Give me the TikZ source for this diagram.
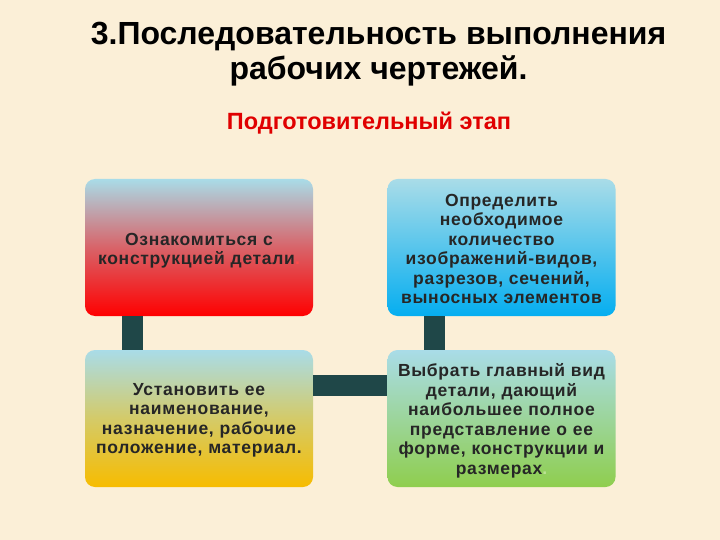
\documentclass[tikz,border=0pt]{standalone}
\usepackage{fontspec}
\setmainfont{Liberation Sans}
\definecolor{bgc}{HTML}{FBEFD7}
\definecolor{conncol}{HTML}{1F4748}
\definecolor{topblue}{HTML}{A9DCE8}
\definecolor{acred}{HTML}{FF0000}
\definecolor{acblue}{HTML}{05AEF0}
\definecolor{acyellow}{HTML}{F7BC00}
\definecolor{acgreen}{HTML}{8FCE4E}
\definecolor{titlered}{HTML}{E00000}
\tikzset{
  boxbase/.style={rounded corners=10pt, minimum width=228pt, minimum height=137pt, inner sep=0pt},
  boxtext/.style={inner sep=0pt, align=center, text width=224pt,
    font=\bfseries\fontsize{17.5}{19.5}\selectfont\addfontfeature{LetterSpace=4}, text=black!85},
  redbox/.style={boxbase, top color=topblue, bottom color=acred, middle color=acred!55!topblue},
  bluebox/.style={boxbase, top color=topblue, bottom color=acblue, middle color=acblue!50!topblue},
  yellowbox/.style={boxbase, top color=topblue, bottom color=acyellow, middle color=acyellow!55!topblue},
  greenbox/.style={boxbase, top color=topblue, bottom color=acgreen, middle color=acgreen!50!topblue},
  conn/.style={draw=conncol, line width=21pt},
  titletext/.style={font=\bfseries\fontsize{32}{38}\selectfont, anchor=base},
  subtext/.style={font=\bfseries\fontsize{23.5}{26}\selectfont, text=titlered, anchor=base}
}
\begin{document}
\begin{tikzpicture}[x=1pt,y=-1pt]
\fill[bgc] (0,0) rectangle (720,540);
\useasboundingbox (0,0) rectangle (720,540);
\node[titletext] (title1) at (378.5,45) {3.Последовательность выполнения};
\node[titletext] (title2) at (378.5,80) {рабочих чертежей.};
\node[subtext] (sub) at (369,130) {Подготовительный этап};
\node[redbox] (b1) at (199,247.5) {};
\node[bluebox] (b2) at (501.5,247.5) {};
\node[yellowbox] (b3) at (199,418.5) {};
\node[greenbox] (b4) at (501.5,418.5) {};
\draw[conn] ([xshift=-66.5pt]b1.south) -- ([xshift=-66.5pt]b3.north);
\draw[conn] ([xshift=-67pt]b2.south) -- ([xshift=-67pt]b4.north);
\draw[conn] ([yshift=33.5pt]b3.east) -- ([yshift=33.5pt]b4.west);
\node[boxtext] (t1) at ([yshift=-3pt]b1.center) {Ознакомиться с\\конструкцией детали\textcolor{acred!70!white}{.}};
\node[boxtext] (t2) at ([yshift=-1.5pt]b2.center) {Определить\\необходимое\\количество\\изображений-видов,\\разрезов, сечений,\\выносных элементов};
\node[boxtext] (t3) at ([yshift=-2pt]b3.center) {Установить ее\\наименование,\\назначение, рабочие\\положение, материал.};
\node[boxtext] (t4) at ([yshift=-2.5pt]b4.center) {Выбрать главный вид\\детали, дающий\\наибольшее полное\\представление о ее\\форме, конструкции и\\размерах\textcolor{acgreen!60!white}{.}};
\end{tikzpicture}
\end{document}
